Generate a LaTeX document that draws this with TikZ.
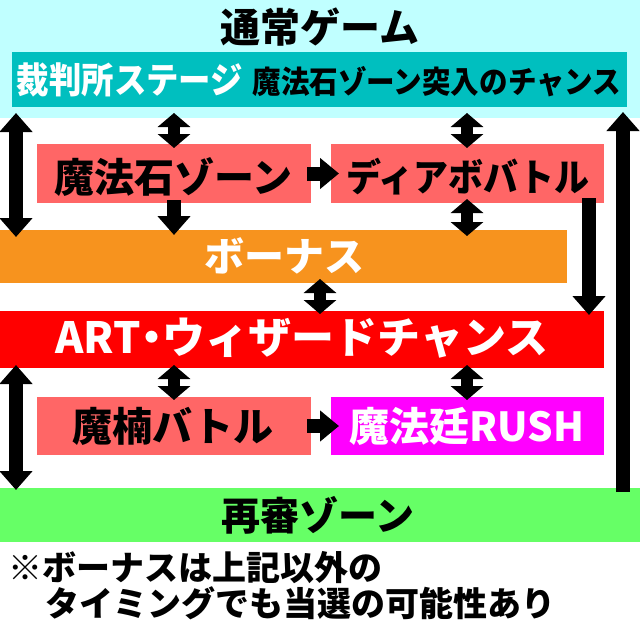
\documentclass[tikz,border=0pt]{standalone}
\usepackage{fontspec}
\newfontfamily\jp{Noto Sans CJK JP Black}
\usetikzlibrary{arrows.meta}
\definecolor{cyanL}{HTML}{C0FFFF}
\definecolor{tealB}{HTML}{00BFBF}
\definecolor{pinkB}{HTML}{FF6666}
\definecolor{orangeB}{HTML}{F7931E}
\definecolor{redB}{HTML}{FF0000}
\definecolor{magB}{HTML}{FF00FF}
\definecolor{greenB}{HTML}{66FF66}
\tikzset{
  box/.style={draw=none, inner sep=0pt, outer sep=0pt, anchor=north west},
  fs/.style={font=\jp\fontsize{#1}{#1}\selectfont, inner sep=0pt},
  bigarrow/.style={line width=14pt, -{Triangle[width=32pt,length=19pt]}},
  sidearrow/.style={line width=14pt, -{Triangle[width=30pt,length=19pt]}},
  dblarrow/.style={line width=12pt, {Triangle[width=32pt,length=14pt]}-{Triangle[width=32pt,length=14pt]}},
  longdbl/.style={line width=14pt, {Triangle[width=32pt,length=19pt]}-{Triangle[width=32pt,length=19pt]}},
}
\begin{document}
\begin{tikzpicture}[x=1pt,y=-1pt]
\useasboundingbox (0,0) rectangle (640,633);
% boxes
\node[box, fill=cyanL, minimum width=640pt, minimum height=118pt] (normal) at (0,0) {};
\node[box, fill=tealB, minimum width=615pt, minimum height=55pt] (teal) at (12,52) {};
\node[box, fill=pinkB, minimum width=274pt, minimum height=59pt] (ms) at (37,144) {};
\node[box, fill=pinkB, minimum width=273pt, minimum height=59pt] (diab) at (331,144) {};
\node[box, fill=orangeB, minimum width=567pt, minimum height=53pt] (bonus) at (0,230) {};
\node[box, fill=redB, minimum width=604pt, minimum height=57pt] (art) at (0,311) {};
\node[box, fill=pinkB, minimum width=274pt, minimum height=58pt] (manan) at (37,397) {};
\node[box, fill=magB, minimum width=273pt, minimum height=58pt] (rush) at (331,397) {};
\node[box, fill=greenB, minimum width=640pt, minimum height=54pt] (retrial) at (0,488) {};
% texts
\node[fs=40] (tNormal) at (320,27) {通常ゲーム};
\node[fs=36, white, xscale=0.9] (tSaiban) at (130,80) {裁判所ステージ};
\node[fs=31, xscale=0.92] (tTotsu) at (437,82) {魔法石ゾーン突入のチャンス};
\node[fs=40] (tMs) at (173,177) {魔法石ゾーン};
\node[fs=38, xscale=0.92] (tDiab) at (468,177) {ディアボバトル};
\node[fs=40, white] (tBonus) at (284,256) {ボーナス};
\node[fs=43, white] (tArt) at (302,338) {ART\kern-10pt・\kern-11pt ウィザードチャンス};
\node[fs=40] (tManan) at (173,426) {魔楠バトル};
\node[fs=40, white] (tRush) at (467,426) {魔法廷RUSH};
\node[fs=39] (tRetrial) at (318,515) {再審ゾーン};
\node[fs=34, anchor=west] (note1) at (8,568) {※ボーナスは上記以外の};
\node[fs=34, anchor=west] (note2) at (45,603) {タイミングでも当選の可能性あり};
% column coordinates
\coordinate (cL) at (16,0);
\coordinate (c1) at (174,0);
\coordinate (c2) at (467,0);
\coordinate (cM) at (320,0);
\coordinate (cD) at (589,0);
\coordinate (cR) at (623,0);
% arrows
\draw[dblarrow] ([yshift=-6pt]teal.south -| c1) -- ([yshift=-4pt]ms.north -| c1);
\draw[dblarrow] ([yshift=-6pt]teal.south -| c2) -- ([yshift=-4pt]diab.north -| c2);
\draw[longdbl] ([yshift=-6pt]teal.south -| cL) -- ([yshift=-7pt]bonus.north -| cL);
\draw[bigarrow] ([yshift=3pt]ms.south -| c1) -- ([yshift=-5pt]bonus.north -| c1);
\draw[dblarrow] ([yshift=4pt]diab.south -| c2) -- ([yshift=-6pt]bonus.north -| c2);
\draw[sidearrow] ([xshift=-4pt]ms.east) -- ([xshift=8pt]diab.west);
\draw[bigarrow] ([yshift=5pt]diab.south -| cD) -- ([yshift=-4pt]art.north -| cD);
\draw[dblarrow] ([yshift=4pt]bonus.south -| cM) -- ([yshift=-3pt]art.north -| cM);
\draw[dblarrow] ([yshift=3pt]art.south -| c1) -- ([yshift=-3pt]manan.north -| c1);
\draw[dblarrow] ([yshift=3pt]art.south -| c2) -- ([yshift=-3pt]rush.north -| c2);
\draw[sidearrow] ([xshift=-4pt]manan.east) -- ([xshift=8pt]rush.west);
\draw[longdbl] ([yshift=3pt]art.south -| cL) -- ([yshift=-2pt]retrial.north -| cL);
\draw[bigarrow] ([yshift=-4pt]retrial.north -| cR) -- ([yshift=-5pt]teal.south -| cR);
\end{tikzpicture}
\end{document}
